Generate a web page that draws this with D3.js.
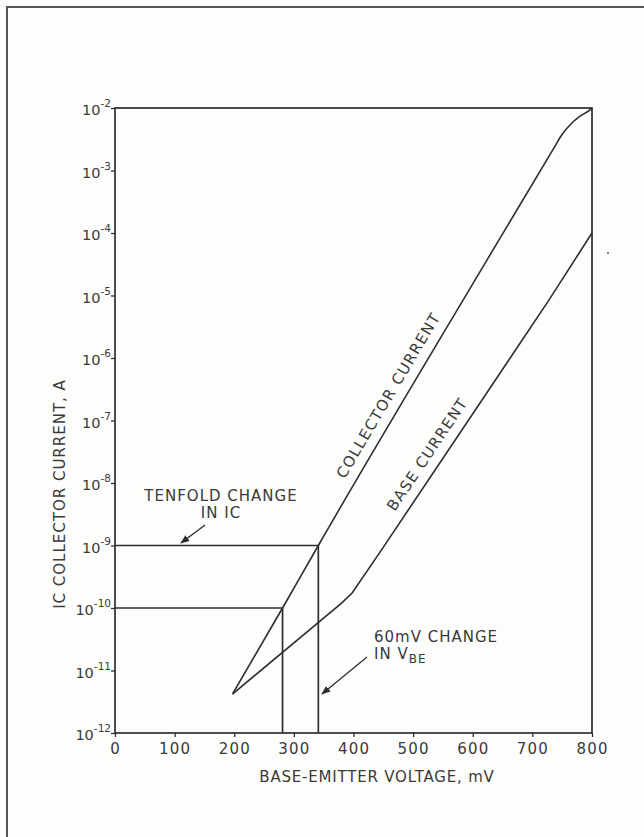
<!DOCTYPE html>
<html>
<head>
<meta charset="utf-8">
<script src="https://cdn.jsdelivr.net/npm/d3@7"></script>
<style>
  body { margin: 0; background: #fdfdfb; }
  svg text { font-family: "DejaVu Sans", sans-serif; fill: #3a3a3a; }
</style>
</head>
<body>
<div id="chart"></div>
<script>
// base-emitter voltage (mV) vs current (A)
var collectorMv = [197, 281, 341, 611, 735, 750, 765, 780, 795, 800];
var collectorA  = [4.2e-12, 1e-10, 1e-9, 2.3e-5, 2.2e-3, 3.8e-3, 5.6e-3, 7.4e-3, 9.1e-3, 1e-2];
var baseMv = [197, 380, 398, 447, 728, 800];
var baseA  = [4.2e-12, 1.2e-10, 1.75e-10, 8.5e-10, 8.5e-6, 1e-4];

var xTicks = [0, 100, 200, 300, 400, 500, 600, 700, 800];
var yExponents = [-2, -3, -4, -5, -6, -7, -8, -9, -10, -11, -12];

// the tenfold / 60 mV construction lines
var guideMv = [281, 341];
var guideA  = [1e-10, 1e-9];

var W = 644, H = 837;
var svg = d3.select("#chart").append("svg")
    .attr("width", W).attr("height", H);

var x = d3.scaleLinear().domain([0, 800]).range([115, 592]);
var y = d3.scaleLog().domain([1e-12, 1e-2]).range([733, 108]);

var ink = "#2e2e2e";

// outer page frame
svg.append("path")
    .attr("d", "M7,837 L7,7 L650,7")
    .attr("fill", "none").attr("stroke", "#555").attr("stroke-width", 2);

// plot box
svg.append("rect")
    .attr("x", x(0)).attr("y", y(1e-2))
    .attr("width", x(800) - x(0)).attr("height", y(1e-12) - y(1e-2))
    .attr("fill", "none").attr("stroke", ink).attr("stroke-width", 1.7);

// x axis
var xAxis = d3.axisBottom(x).tickValues(xTicks).tickSize(4).tickPadding(6);
var gx = svg.append("g").attr("transform", "translate(0," + y(1e-12) + ")").call(xAxis);
gx.select(".domain").remove();
gx.selectAll("line").attr("stroke", ink).attr("stroke-width", 1.3);
gx.selectAll("text")
    .attr("font-size", 15).attr("letter-spacing", 1.2)
    .style("font-family", "DejaVu Sans").attr("fill", "#3a3a3a");

// y axis with 10^n labels
var gy = svg.append("g").attr("transform", "translate(" + x(0) + ",0)")
    .call(d3.axisLeft(y).tickValues(yExponents.map(function(e) { return Math.pow(10, e); }))
        .tickSize(4).tickFormat(""));
gy.select(".domain").remove();
gy.selectAll("line").attr("stroke", ink).attr("stroke-width", 1.3);

yExponents.forEach(function(e) {
  var t = svg.append("text")
      .attr("x", x(0) - 4).attr("y", y(Math.pow(10, e)) + 7)
      .attr("text-anchor", "end").attr("font-size", 14.5);
  t.append("tspan").text("10");
  t.append("tspan").attr("dy", -8).attr("font-size", 10.5).text("-" + Math.abs(e));
});

// axis titles
svg.append("text")
    .attr("x", 377).attr("y", 782)
    .attr("text-anchor", "middle").attr("font-size", 15).attr("letter-spacing", 0.8)
    .text("BASE-EMITTER VOLTAGE, mV");

svg.append("text")
    .attr("transform", "translate(65,494) rotate(-90)")
    .attr("text-anchor", "middle").attr("font-size", 15).attr("letter-spacing", 1)
    .text("IC COLLECTOR CURRENT, A");

// construction lines
guideMv.forEach(function(mv, i) {
  svg.append("path")
      .attr("d", d3.line()([[x(0), y(guideA[i])], [x(mv), y(guideA[i])], [x(mv), y(1e-12)]]))
      .attr("fill", "none").attr("stroke", ink).attr("stroke-width", 1.7);
});

// curves
var line = d3.line()
    .x(function(d) { return x(d[0]); })
    .y(function(d) { return y(d[1]); });

svg.append("path")
    .datum(d3.zip(collectorMv, collectorA))
    .attr("d", line.curve(d3.curveMonotoneX))
    .attr("fill", "none").attr("stroke", ink).attr("stroke-width", 1.6);

svg.append("path")
    .datum(d3.zip(baseMv, baseA))
    .attr("d", line.curve(d3.curveLinear))
    .attr("fill", "none").attr("stroke", ink).attr("stroke-width", 1.6);

// labels along the curves
function slopeAngle(mv0, a0, mv1, a1) {
  return Math.atan2(y(a1) - y(a0), x(mv1) - x(mv0)) * 180 / Math.PI;
}
var collAngle = slopeAngle(collectorMv[2], collectorA[2], collectorMv[3], collectorA[3]);
var baseAngle = slopeAngle(baseMv[3], baseA[3], baseMv[4], baseA[4]);

svg.append("text")
    .attr("transform", "translate(" + x(466) + "," + y(2.3e-7) + ") rotate(" + collAngle + ")")
    .attr("text-anchor", "middle").attr("font-size", 15).attr("letter-spacing", 1.3)
    .text("COLLECTOR CURRENT");

svg.append("text")
    .attr("transform", "translate(" + x(531) + "," + y(2.6e-8) + ") rotate(" + baseAngle + ")")
    .attr("text-anchor", "middle").attr("font-size", 15).attr("letter-spacing", 1.3)
    .text("BASE CURRENT");

// annotations
svg.append("defs").append("marker")
    .attr("id", "arrow").attr("viewBox", "0 0 10 10")
    .attr("refX", 9).attr("refY", 5)
    .attr("markerWidth", 7).attr("markerHeight", 7)
    .attr("orient", "auto")
  .append("path").attr("d", "M0,1 L10,5 L0,9 Z").attr("fill", ink);

svg.append("text").attr("x", 221).attr("y", 501)
    .attr("text-anchor", "middle").attr("font-size", 15).attr("letter-spacing", 1)
    .text("TENFOLD CHANGE");
svg.append("text").attr("x", 221).attr("y", 518)
    .attr("text-anchor", "middle").attr("font-size", 15).attr("letter-spacing", 1)
    .text("IN IC");
svg.append("line")
    .attr("x1", 205).attr("y1", 525).attr("x2", 181).attr("y2", 543)
    .attr("stroke", ink).attr("stroke-width", 1.3).attr("marker-end", "url(#arrow)");

svg.append("text").attr("x", 374).attr("y", 642)
    .attr("font-size", 15).attr("letter-spacing", 1)
    .text("60mV CHANGE");
var vbe = svg.append("text").attr("x", 374).attr("y", 659)
    .attr("font-size", 15).attr("letter-spacing", 1);
vbe.append("tspan").text("IN V");
vbe.append("tspan").attr("dy", 4).attr("font-size", 12).text("BE");
svg.append("line")
    .attr("x1", 367).attr("y1", 657).attr("x2", 322).attr("y2", 694)
    .attr("stroke", ink).attr("stroke-width", 1.3).attr("marker-end", "url(#arrow)");

// stray speck on the scan
svg.append("circle").attr("cx", 608).attr("cy", 253).attr("r", 1.1).attr("fill", "#666");
</script>
</body>
</html>
